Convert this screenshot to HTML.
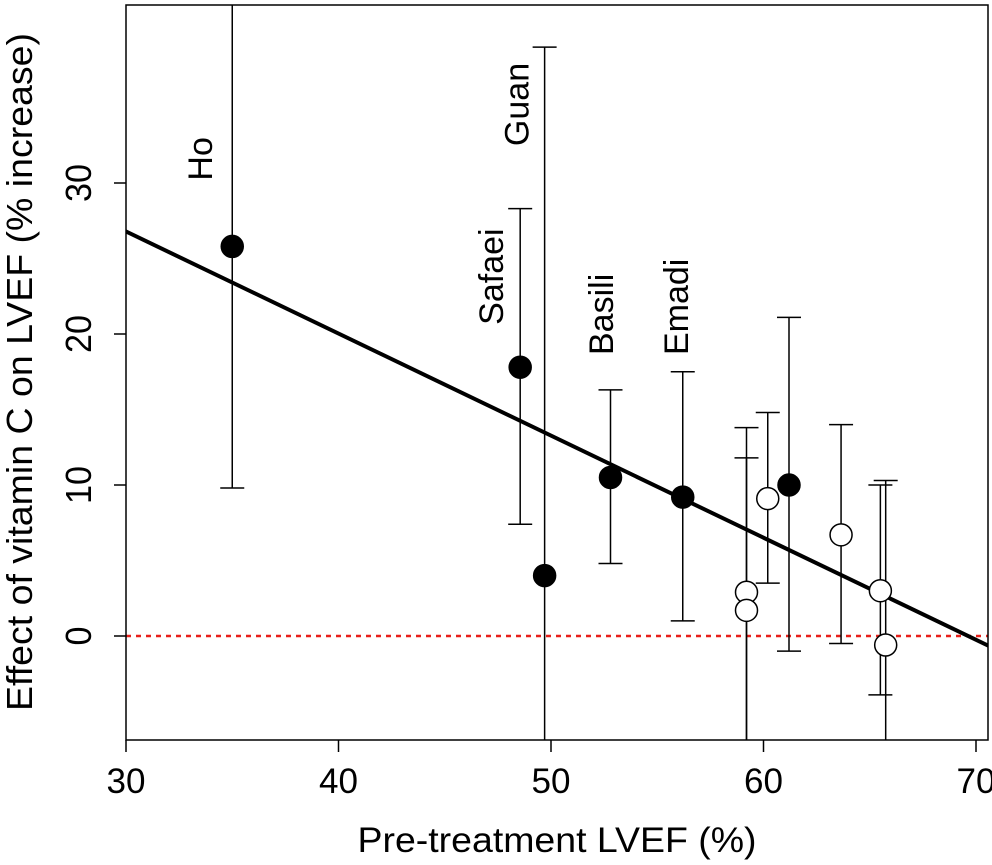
<!DOCTYPE html>
<html><head><meta charset="utf-8"><style>
html,body{margin:0;padding:0;background:#fff;}
svg{display:block;font-family:"Liberation Sans",Arial,sans-serif;}
</style></head><body>
<svg id="chart" width="992" height="865" viewBox="0 0 992 865"></svg>
<script>
const xTicks=[30,40,50,60,70];
const yTicks=[0,10,20,30];
const studyX=[35,48.55,49.7,52.8,56.2,59.2,59.2,60.2,61.2,63.65,65.5,65.75];
const studyY=[25.8,17.8,4,10.5,9.2,2.9,1.7,9.1,10,6.7,3,-0.6];
const ciLow=[9.8,7.4,-10,4.8,1,-10,-10,3.5,-1,-0.5,-3.9,-10];
const ciHigh=[50,28.3,39,16.3,17.5,13.8,11.8,14.8,21.1,14,10,10.3];
const filled=[1,1,1,1,1,0,0,0,1,0,0,0];
const labelNames=["Ho","Safaei","Guan","Basili","Emadi"];
const labelX=[34.05,47.74,48.94,52.92,56.45];
const labelY=[31.6,23.8,35.2,21.3,21.8];
const regIntercept=47.07, regSlope=-0.676;

const L=126,R=988,T=5,B=740;
const sx=v=>126+(v-30)*21.25;
const sy=v=>636-v*15.1;
const svg=document.getElementById('chart');
const NS='http://www.w3.org/2000/svg';
function mk(t,a,p){const e=document.createElementNS(NS,t);for(const k in a)e.setAttribute(k,a[k]);(p||svg).appendChild(e);return e;}

const clip=mk('clipPath',{id:'pc'});mk('rect',{x:L,y:T,width:R-L,height:B-T},clip);
const plot=mk('g',{'clip-path':'url(#pc)'});



const z=mk('line',{x1:L,x2:R,y1:sy(0),y2:sy(0),stroke:'#e8201a','stroke-width':2.5,'stroke-dasharray':'5,5'},plot);



studyX.forEach((x,i)=>{
  const g=mk('g',{},plot);
  
  
  const cx=sx(x);
  mk('line',{x1:cx,x2:cx,y1:sy(ciLow[i]),y2:sy(ciHigh[i]),stroke:'#000','stroke-width':1.5},g);
  mk('line',{x1:cx-12,x2:cx+12,y1:sy(ciLow[i]),y2:sy(ciLow[i]),stroke:'#000','stroke-width':1.5},g);
  mk('line',{x1:cx-12,x2:cx+12,y1:sy(ciHigh[i]),y2:sy(ciHigh[i]),stroke:'#000','stroke-width':1.5},g);
});
const rl=mk('line',{x1:sx(29),y1:sy(regIntercept+regSlope*29),x2:sx(72),y2:sy(regIntercept+regSlope*72),stroke:'#000','stroke-width':4},plot);


studyX.forEach((x,i)=>{
  const c=mk('circle',{cx:sx(x),cy:sy(studyY[i]),r:11,fill:filled[i]?'#000':'#fff',stroke:'#000','stroke-width':1.5},plot);
  
  
});
labelNames.forEach((n,i)=>{
  const t=mk('text',{x:0,y:0,transform:`translate(${sx(labelX[i])},${sy(labelY[i])}) rotate(-90)`,'text-anchor':'middle','font-size':34},plot);
  t.textContent=n;
  
  
});
const fr=mk('rect',{x:L,y:T,width:R-L,height:B-T,fill:'none',stroke:'#000','stroke-width':1.5});


xTicks.forEach(v=>{
  mk('line',{x1:sx(v),x2:sx(v),y1:B,y2:B+12,stroke:'#000','stroke-width':1.5});
  const t=mk('text',{x:sx(v),y:B+53,'text-anchor':'middle','font-size':35,textLength:39,lengthAdjust:'spacingAndGlyphs'});
  t.textContent=v;
  
  
});
yTicks.forEach(v=>{
  mk('line',{x1:L-12,x2:L,y1:sy(v),y2:sy(v),stroke:'#000','stroke-width':1.5});
  const t=mk('text',{x:0,y:0,transform:`translate(91,${sy(v)}) rotate(-90)`,'text-anchor':'middle','font-size':36,textLength:String(v).length*19,lengthAdjust:'spacingAndGlyphs'});
  t.textContent=v;
  
  
});
const xt=mk('text',{x:557,y:852,'text-anchor':'middle','font-size':35,textLength:399,lengthAdjust:'spacingAndGlyphs'});
xt.textContent='Pre-treatment LVEF (%)';


const yt=mk('text',{x:0,y:0,transform:`translate(32,372) rotate(-90)`,'text-anchor':'middle','font-size':36,textLength:678,lengthAdjust:'spacingAndGlyphs'});
yt.textContent='Effect of vitamin C on LVEF (% increase)';


</script>
</body></html>
